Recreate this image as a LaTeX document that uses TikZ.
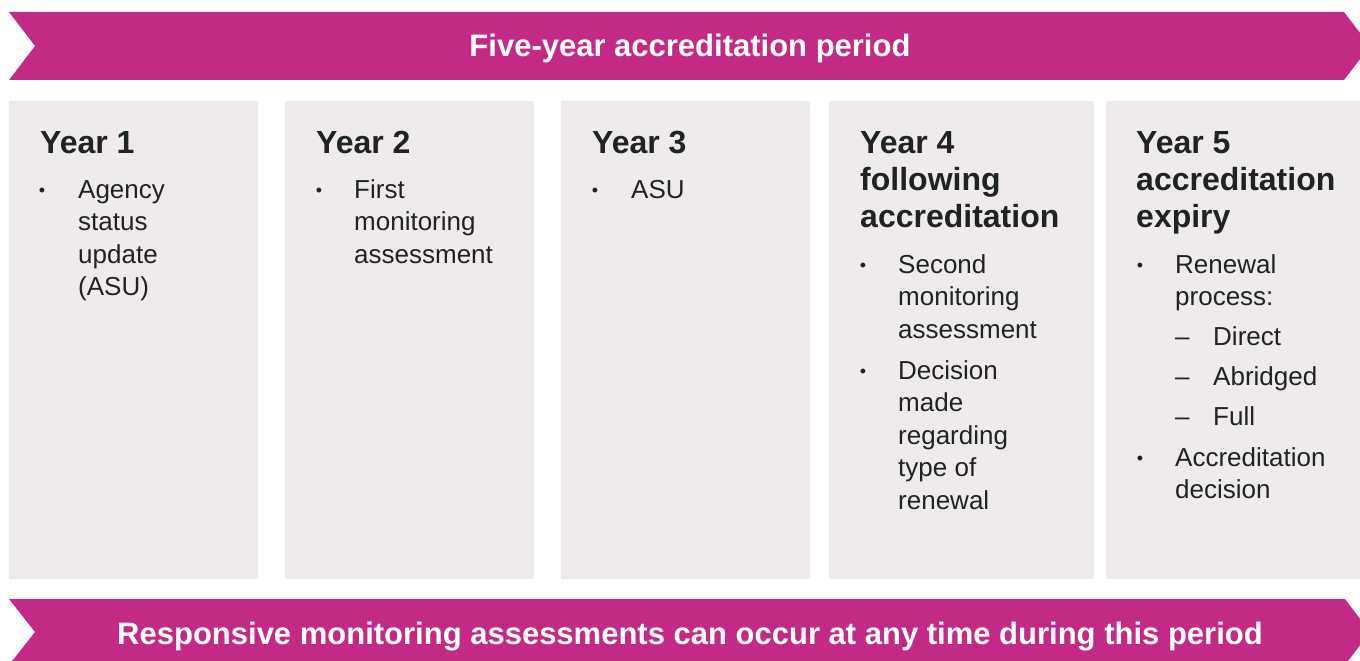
\documentclass[tikz,border=0pt]{standalone}
\usepackage{fontspec}
\setmainfont{Liberation Sans}
\definecolor{brand}{RGB}{194,42,134}
\definecolor{panel}{RGB}{239,235,234}
\definecolor{ink}{RGB}{31,36,33}
\tikzset{
  banner/.style={fill=brand, draw=none},
  bannertext/.style={anchor=base, inner sep=0, text=white, font=\fontsize{31}{36}\selectfont\bfseries},
  panelbox/.style={fill=panel, draw=none},
  head/.style={anchor=base west, inner sep=0, text=ink, font=\fontsize{32}{37}\selectfont\bfseries},
  body/.style={anchor=base west, inner sep=0, text=ink, font=\fontsize{26}{32.5}\selectfont},
  dot/.style={anchor=base, inner sep=0, text=ink, font=\fontsize{18}{20}\selectfont},
}
\begin{document}
\begin{tikzpicture}[x=1pt,y=-1pt]
\useasboundingbox (0,0) rectangle (1360,661);
\clip (0,0) rectangle (1360,661);

% top and bottom chevron banners
\fill[banner] (9,12) -- (1344,12) -- (1370,46) -- (1344,80) -- (9,80) -- (35,46) -- cycle;
\node[bannertext] (toptitle) at (690,57) {Five-year accreditation period};
\fill[banner] (9,599) -- (1345,599) -- (1370,632) -- (1345,665) -- (9,665) -- (35,632) -- cycle;
\node[bannertext] (bottomtitle) at (690,644) {Responsive monitoring assessments can occur at any time during this period};

% year panels
\fill[panelbox] (9,101) rectangle (258,579);
\fill[panelbox] (285,101) rectangle (534,579);
\fill[panelbox] (561,101) rectangle (810,579);
\fill[panelbox] (829,101) rectangle (1094,579);
\fill[panelbox] (1106,101) rectangle (1370,579);

% Year 1
\node[head] (y1h) at (40,153) {Year 1};
\node[dot]  (y1d) at (42,196) {•};
\node[body] (y1a) at (78,198) {Agency};
\node[body] (y1b) at (78,230.5) {status};
\node[body] (y1c) at (78,263) {update};
\node[body] (y1e) at (78,295.5) {(ASU)};

% Year 2
\node[head] (y2h) at (316,153) {Year 2};
\node[dot]  (y2d) at (319,196) {•};
\node[body] (y2a) at (354,198) {First};
\node[body] (y2b) at (354,230.5) {monitoring};
\node[body] (y2c) at (354,263) {assessment};

% Year 3
\node[head] (y3h) at (592,153) {Year 3};
\node[dot]  (y3d) at (595,196) {•};
\node[body] (y3a) at (631,198) {ASU};

% Year 4
\node[head] (y4h) at (860,153) {Year 4};
\node[head] (y4i) at (860,190) {following};
\node[head] (y4j) at (860,227) {accreditation};
\node[dot]  (y4d) at (863,271) {•};
\node[body] (y4a) at (898,273) {Second};
\node[body] (y4b) at (898,305.5) {monitoring};
\node[body] (y4c) at (898,338) {assessment};
\node[dot]  (y4e) at (863,377) {•};
\node[body] (y4f) at (898,379) {Decision};
\node[body] (y4g) at (898,411.5) {made};
\node[body] (y4k) at (898,444) {regarding};
\node[body] (y4l) at (898,476.5) {type of};
\node[body] (y4m) at (898,509) {renewal};

% Year 5
\node[head] (y5h) at (1136,153) {Year 5};
\node[head] (y5i) at (1136,190) {accreditation};
\node[head] (y5j) at (1136,227) {expiry};
\node[dot]  (y5d) at (1140,271) {•};
\node[body] (y5a) at (1175,273) {Renewal};
\node[body] (y5b) at (1175,305.5) {process:};
\node[body] (y5c) at (1175,345) {–};
\node[body] (y5e) at (1213,345) {Direct};
\node[body] (y5f) at (1175,385.5) {–};
\node[body] (y5g) at (1213,385.5) {Abridged};
\node[body] (y5k) at (1175,425.5) {–};
\node[body] (y5l) at (1213,425.5) {Full};
\node[dot]  (y5m) at (1140,464) {•};
\node[body] (y5n) at (1175,466) {Accreditation};
\node[body] (y5o) at (1175,498.5) {decision};
\end{tikzpicture}
\end{document}
